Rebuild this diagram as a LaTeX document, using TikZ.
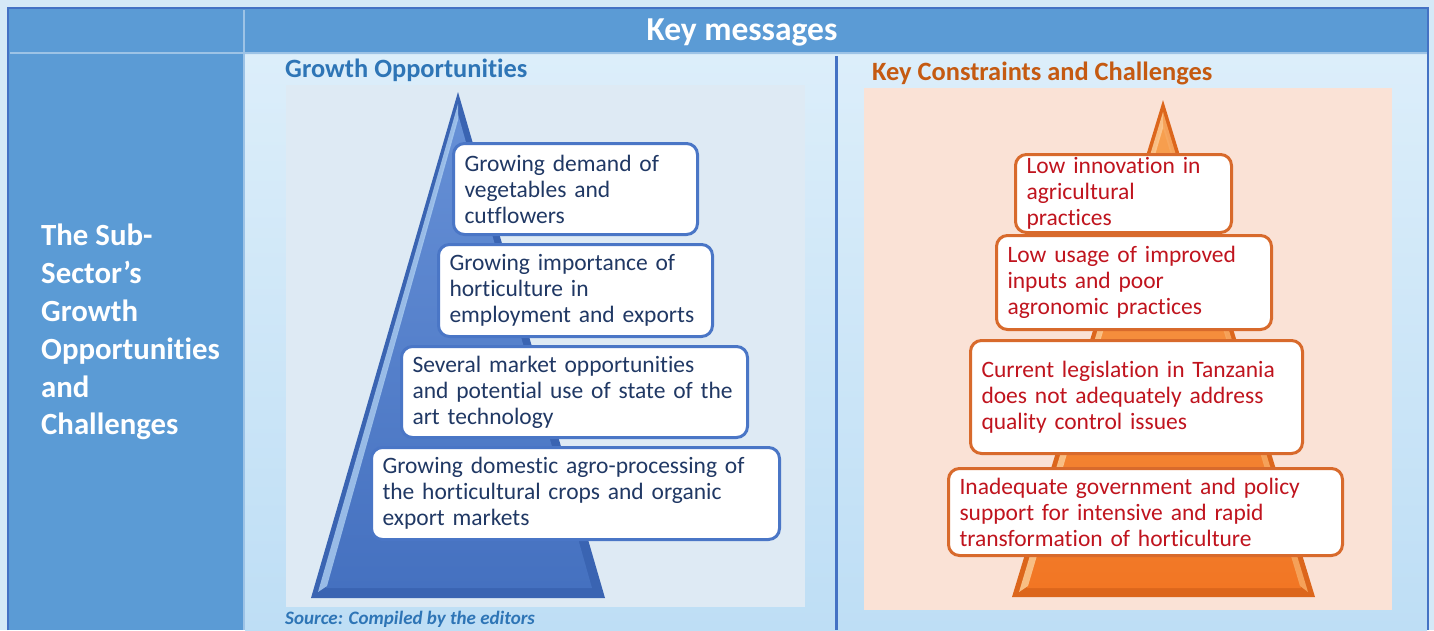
\documentclass[tikz,border=0pt]{standalone}
\usepackage{fontspec}
\setmainfont{Carlito}[Ligatures=NoCommon]
\begin{document}
\definecolor{pagebg}{HTML}{D5E9F7}
\definecolor{headfill}{HTML}{5B9BD5}
\definecolor{frameblue}{HTML}{4472C4}
\definecolor{sepline}{HTML}{9DC3E6}
\definecolor{areatop}{HTML}{DCEEFA}
\definecolor{areabot}{HTML}{BEDEF5}
\definecolor{oppfill}{HTML}{DEEAF4}
\definecolor{confill}{HTML}{FAE2D6}
\definecolor{opptitle}{HTML}{2E75B6}
\definecolor{contitle}{HTML}{C55A11}
\definecolor{opptext}{HTML}{203864}
\definecolor{context}{HTML}{C0141E}
\definecolor{oppedge}{HTML}{4A76C6}
\definecolor{conedge}{HTML}{D86A2C}
\definecolor{bluepyrdark}{HTML}{3A64B2}
\definecolor{bluepyrlight}{HTML}{A9CBF0}
\definecolor{bluepyrtop}{HTML}{6690D6}
\definecolor{bluepyrbot}{HTML}{4571C0}
\definecolor{orpyrdark}{HTML}{DC661C}
\definecolor{orpyrlight}{HTML}{FCC890}
\definecolor{orpyrside}{HTML}{F8A860}
\definecolor{orpyrtop}{HTML}{F7A050}
\definecolor{orpyrbot}{HTML}{F27624}
\tikzset{
  msgbox/.style={draw, line width=3pt, rounded corners=11pt, fill=white,
    anchor=north west, align=left, inner xsep=11pt, inner ysep=1pt,
    font=\fontsize{23.5}{26}\selectfont},
  oppbox/.style={msgbox, draw=oppedge, text=opptext},
  conbox/.style={msgbox, draw=conedge, text=context},
}
\begin{tikzpicture}[x=1pt,y=-1pt]
\useasboundingbox (0,0) rectangle (1434,630);
\fill[pagebg] (0,0) rectangle (1434,630);

% header row and left column
\fill[headfill] (9,9) rectangle (1428,54);
\fill[headfill] (9,54) rectangle (244,630);
% message area
\shade[top color=areatop, bottom color=areabot] (245,55) rectangle (1427,630);
% cell separators
\draw[sepline, line width=2pt] (244,10) -- (244,630);
\draw[sepline, line width=2pt] (10,53) -- (1427,53);
% outer frame
\draw[frameblue, line width=2pt] (8,630) -- (8,8) -- (1428,8) -- (1428,630);
\draw[frameblue, line width=3pt] (836,56) -- (836,630);

\node[text=white, font=\fontsize{33.5}{36}\bfseries\selectfont] (head) at (742,32) {Key messages};
\node[text=white, anchor=north west, align=left, inner sep=0pt,
      font=\fontsize{30.8}{37.8}\bfseries\selectfont] (rowhead) at (41,224)
  {The Sub-\\Sector’s\\Growth\\Opportunities\\and\\Challenges};

% ---------- opportunities panel ----------
\node[text=opptitle, anchor=west, inner sep=0pt, font=\fontsize{26.4}{30}\bfseries\selectfont] (opptitle) at (285,70) {Growth Opportunities};
\fill[oppfill] (286,85) rectangle (805,607);
\node[text=opptitle, anchor=west, inner sep=0pt, font=\fontsize{19}{22}\bfseries\itshape\selectfont] (source) at (285,619) {Source: Compiled by the editors};

% blue pyramid: dark rim, bevelled face, light left edge
\fill[bluepyrdark] (458,92) -- (605,598) -- (311,598) -- cycle;
\shade[top color=bluepyrtop, bottom color=bluepyrbot]
  (458,114) -- (592,588) -- (326,588) -- cycle;
\fill[bluepyrlight, opacity=0.85] (458,104) -- (318,592) -- (327,586) -- (458,120) -- cycle;

\node[oppbox, text width=222pt, minimum height=91pt] (o1) at (452,142)
  {\mbox{Growing demand of}\\vegetables and\\cutflowers};
\node[oppbox, text width=252pt, minimum height=92pt] (o2) at (437,243)
  {\mbox{Growing importance of}\\horticulture in\\\mbox{employment and exports}};
\node[oppbox, text width=324pt, minimum height=91pt] (o3) at (400,345)
  {\mbox{Several market opportunities}\\\mbox{and potential use of state of the}\\art technology};
\node[oppbox, text width=386pt, minimum height=92pt] (o4) at (370,446)
  {\mbox{Growing domestic agro-processing of}\\\mbox{the horticultural crops and organic}\\export markets};

% ---------- constraints panel ----------
\node[text=contitle, anchor=west, inner sep=0pt, font=\fontsize{26.4}{30}\bfseries\selectfont] (contitle) at (872,73) {Key Constraints and Challenges};
\fill[confill] (864,88) rectangle (1392,610);

% orange pyramid: dark rim, bevelled face, light edges
\fill[orpyrdark] (1163,100) -- (1315,597) -- (1012,597) -- cycle;
\shade[top color=orpyrtop, bottom color=orpyrbot]
  (1163,122) -- (1301,588) -- (1027,588) -- cycle;
\fill[orpyrlight, opacity=0.9] (1163,112) -- (1019,592) -- (1028,586) -- (1163,128) -- cycle;
\fill[orpyrside, opacity=0.9] (1163,112) -- (1308,592) -- (1300,586) -- (1163,128) -- cycle;

\node[conbox, text width=194pt, minimum height=78pt, inner ysep=0pt] (c1) at (1014,153)
  {\mbox{Low innovation in}\\agricultural\\practices};
\node[conbox, text width=253pt, minimum height=94pt] (c2) at (995,234)
  {\mbox{Low usage of improved}\\inputs and poor\\\mbox{agronomic practices}};
\node[conbox, text width=310pt, minimum height=113pt] (c3) at (969,339)
  {\mbox{Current legislation in Tanzania}\\\mbox{does not adequately address}\\quality control issues};
\node[conbox, text width=372pt, minimum height=87pt] (c4) at (947,467)
  {\mbox{Inadequate government and policy}\\\mbox{support for intensive and rapid}\\\mbox{transformation of horticulture}};
\end{tikzpicture}
\end{document}
